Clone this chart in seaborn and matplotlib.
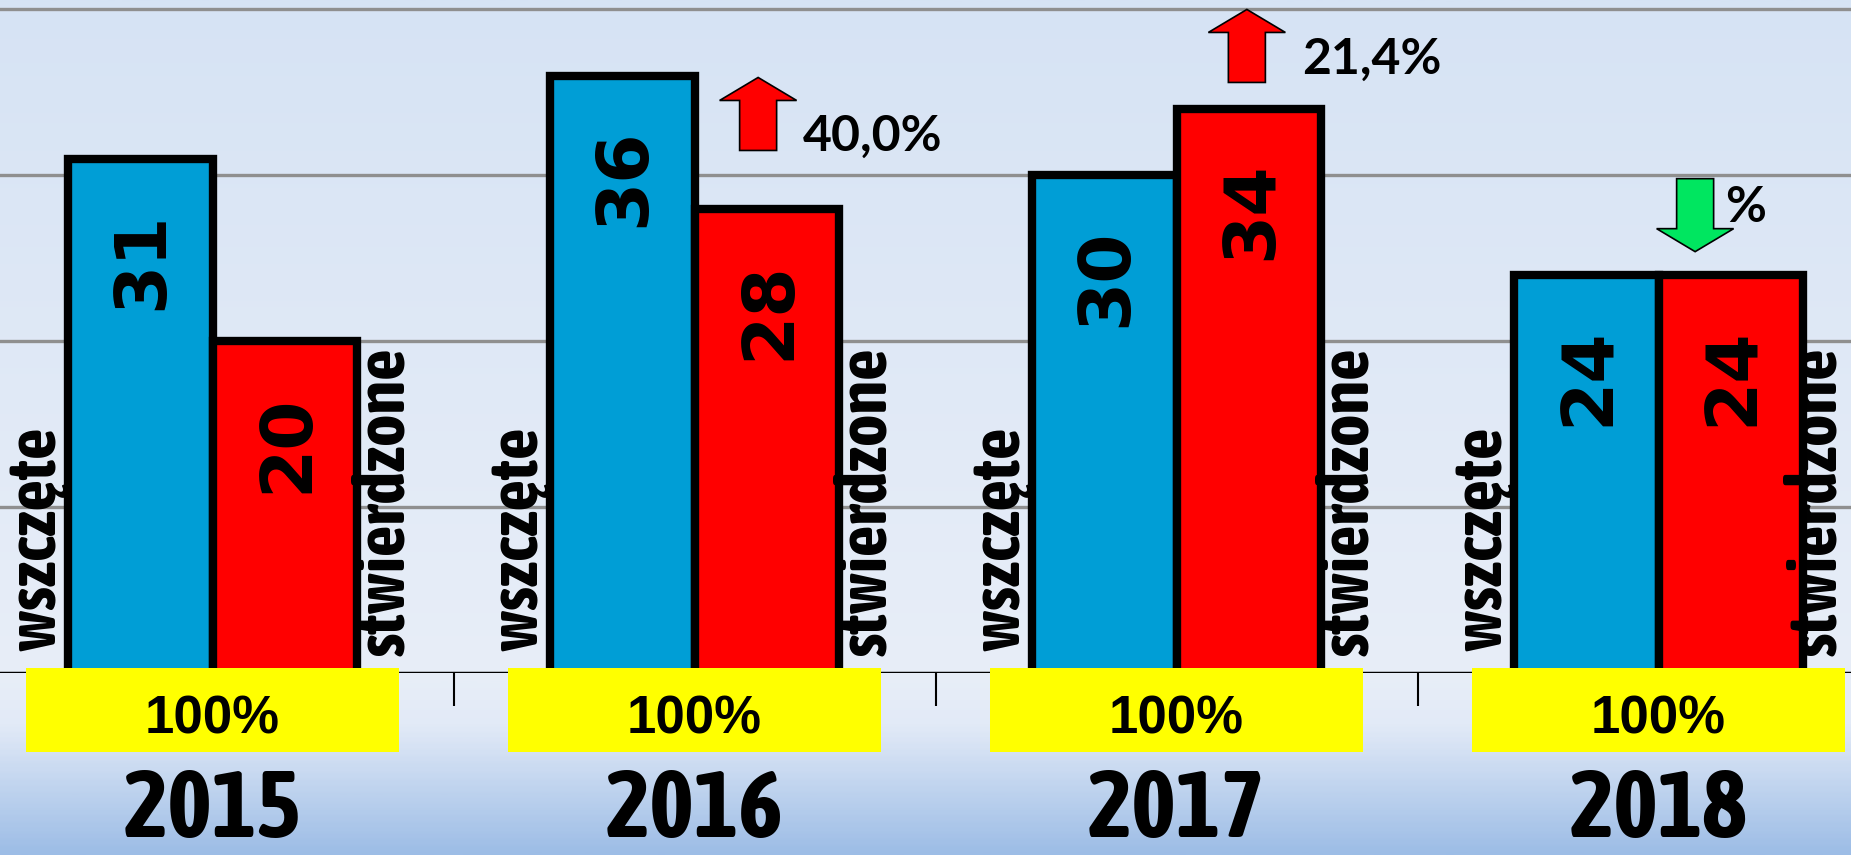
import numpy as np
import pandas as pd
import matplotlib
matplotlib.use('Agg')
import matplotlib.pyplot as plt
import matplotlib.patches as mpatches
import matplotlib.transforms as mtransforms
import matplotlib.font_manager as fm
from matplotlib.colors import LinearSegmentedColormap
import seaborn as sns

# dane
lata = ['2015', '2016', '2017', '2018']
wszczete = [31, 36, 30, 24]
stwierdzone = [20, 28, 34, 24]
serie = ['wszczęte', 'stwierdzone']
udzial = ['100%', '100%', '100%', '100%']
zmiana = ['', '40,0%', '21,4%', '%']
kierunek = [None, 'up', 'up', 'down']

df = pd.DataFrame({
    'rok': lata * 2,
    'liczba': wszczete + stwierdzone,
    'rodzaj': [serie[0]] * len(lata) + [serie[1]] * len(lata),
})

sns.set_theme(style='white')
plt.rcParams['font.family'] = ['Liberation Sans', 'DejaVu Sans']
plt.rcParams['text.color'] = 'black'


def waga(f):
    if isinstance(f.weight, (int, float)):
        return f.weight
    return fm.weight_dict.get(f.weight, 400)


# wąska pogrubiona czcionka, jeśli jest zainstalowana
waskie = sorted({f.name for f in fm.fontManager.ttflist
                 if ('Narrow' in f.name or ('Condensed' in f.name and 'DejaVu' not in f.name))
                 and waga(f) >= 700})
if waskie:
    waska, rozm_rok, rozm_serie = waskie[0], 68, 50
else:
    waska, rozm_rok, rozm_serie = 'Liberation Sans', 60, 42

fig = plt.figure(figsize=(18.51, 8.55), dpi=100)

# tło - gradient
tlo = fig.add_axes([0, 0, 1, 1])
cmap = LinearSegmentedColormap.from_list(
    'tlo', [(0, '#d6e3f4'), (0.79, '#e8eef8'), (0.85, '#e2eaf7'), (1, '#9dbde6')])
tlo.imshow(np.linspace(0, 1, 400).reshape(-1, 1), cmap=cmap, aspect='auto',
           extent=[0, 1, 0, 1], origin='upper')
tlo.set_axis_off()
tlo.set_zorder(0)

ax = fig.add_axes([-28.5 / 1851, 182 / 855, 1928 / 1851, 673 / 855])
ax.set_zorder(1)
ax.patch.set_alpha(0)

sns.barplot(data=df, x='rok', y='liczba', hue='rodzaj', hue_order=serie,
            palette=['#009ed6', '#ff0000'], saturation=1, width=0.6,
            edgecolor='black', linewidth=6, errorbar=None, legend=False,
            ax=ax, zorder=3)

ax.set_xlim(-0.5, 3.5)
ax.set_ylim(0, 40.57)
ax.set_yticks([10, 20, 30, 40])
ax.yaxis.grid(True, color='#8f8f8f', lw=2.4)
ax.set_axisbelow(True)
ax.tick_params(axis='y', left=False, labelleft=False)
ax.set_xticks([0.5, 1.5, 2.5], labels=['', '', ''])
ax.tick_params(axis='x', bottom=True, length=24, width=1.5, color='black', direction='out')
for s in ax.spines.values():
    s.set_visible(False)
ax.axhline(0, color='black', lw=2.5, zorder=2)
ax.set_xlabel('')
ax.set_ylabel('')

# wartości na słupkach
for cont in ax.containers:
    for bar in cont:
        x = bar.get_x() + bar.get_width() / 2
        h = bar.get_height()
        ax.annotate(f'{h:.0f}', (x, h), xytext=(2, -38), textcoords='offset points',
                    rotation=90, ha='center', va='top', fontsize=51,
                    fontweight='bold', family='DejaVu Sans', color='black', zorder=4)

# opisy serii, żółte pola, lata
opisy = []
for i, rok in enumerate(lata):
    opisy.append(ax.text(i - 0.367, 1.3, serie[0], rotation=90, ha='center', va='bottom',
                         fontsize=rozm_serie, fontweight='bold',
                         family=[waska, 'DejaVu Sans'], zorder=4))
    opisy.append(ax.text(i + 0.355, 1.0, serie[1], rotation=90, ha='center', va='bottom',
                         fontsize=rozm_serie, fontweight='bold',
                         family=[waska, 'DejaVu Sans'], zorder=4))
    ax.add_patch(mpatches.Rectangle((i - 0.386, -4.76), 0.772, 5.06, facecolor='#ffff00',
                                    edgecolor='none', zorder=5, clip_on=False))
    ax.text(i, -3.62, udzial[i], ha='center', va='baseline', fontsize=38,
            fontweight='bold', zorder=6, clip_on=False)
    ax.text(i, -5.6, rok, ha='center', va='top', fontsize=rozm_rok, fontweight='bold',
            family=[waska, 'DejaVu Sans'], zorder=6, clip_on=False)

# strzałki zmian
strz_x = [0, 0.132, 0.146, 0.076]
strz_y = [0, 31.5, 35.6, 29.8]
tekst_x = [0, 0.225, 0.26, 0.138]
tekst_y = [0, 31.5, 36.1, 27.2]
for i, k in enumerate(kierunek):
    if k is None:
        continue
    tr = fig.dpi_scale_trans + mtransforms.ScaledTranslation(i + strz_x[i], strz_y[i], ax.transData)
    dy = 0.73 if k == 'up' else -0.73
    kolor = '#ff0000' if k == 'up' else '#00e660'
    ax.add_patch(mpatches.FancyArrow(0, 0, 0, dy, width=0.37, head_width=0.77,
                                     head_length=0.23, length_includes_head=True,
                                     facecolor=kolor, edgecolor='black', lw=1.2,
                                     transform=tr, clip_on=False, zorder=6))
    ax.text(i + tekst_x[i], tekst_y[i], zmiana[i], ha='left', va='baseline',
            fontsize=36, fontweight='bold', family=['Lato', 'DejaVu Sans'], zorder=6)

# ostatni opis przy prawej krawędzi - przesunąć, żeby się zmieścił
fig.canvas.draw()
px_na_kat = ax.transData.transform((1, 0))[0] - ax.transData.transform((0, 0))[0]
for t in opisy:
    bb = t.get_window_extent()
    if bb.x1 > fig.bbox.x1 - 1:
        t.set_x(t.get_position()[0] - (bb.x1 - fig.bbox.x1 + 2) / px_na_kat)

fig.savefig('out.png', dpi=100)
